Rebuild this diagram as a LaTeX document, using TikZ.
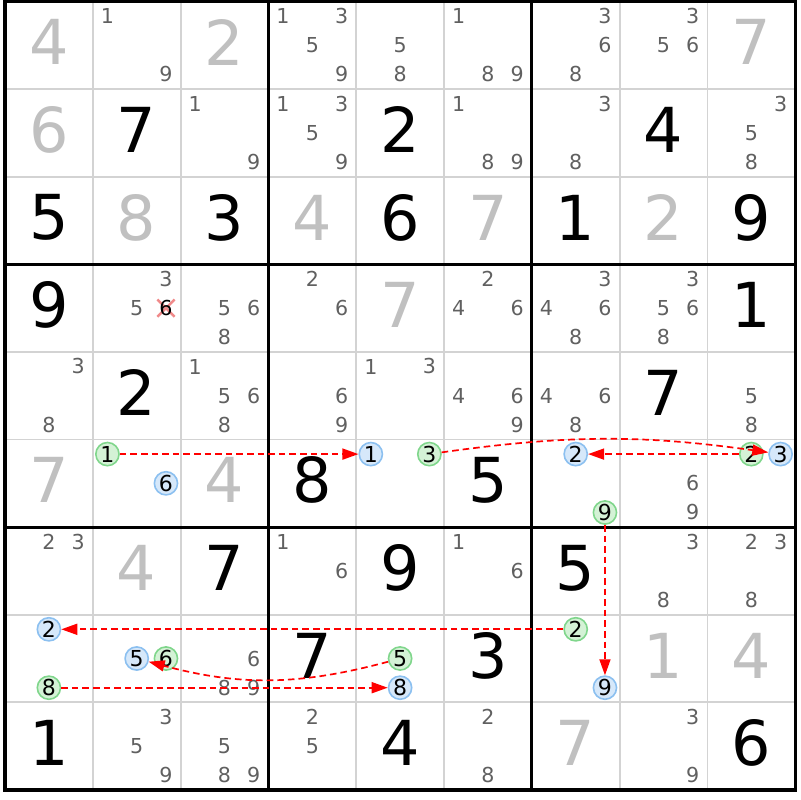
\documentclass[tikz,border=0pt]{standalone}
\usepackage{fontspec}
\setmainfont{DejaVu Sans}
\usetikzlibrary{arrows.meta}
\definecolor{gridgray}{RGB}{211,211,211}
\definecolor{candgray}{RGB}{96,96,96}
\definecolor{solvedgray}{RGB}{192,192,192}
\definecolor{ongreen}{RGB}{212,242,214}
\definecolor{ongreenline}{RGB}{128,214,140}
\definecolor{offblue}{RGB}{214,232,250}
\definecolor{offblueline}{RGB}{140,192,240}
\definecolor{elimred}{RGB}{240,138,138}
% candidate #4 of row #2, column #3, drawn with style #1
\newcommand{\candnode}[4]{%
    \pgfmathsetmacro\cx{#3+mod(#4-1,3)/3+1/6}%
    \pgfmathsetmacro\cy{#2+int((#4-1)/3)/3+1/6}%
    \node[#1] (k#2#3#4) at (\cx,\cy) {#4};}
\newcommand{\cands}[3]{\foreach \k in {#3} {\candnode{cand}{#1}{#2}{\k}}}

\begin{document}
\begin{tikzpicture}[x=43.9pt,y=-43.8pt,
    thinline/.style={gridgray,line width=0.9pt},
    boxline/.style={black,line width=1.6pt,line cap=rect},
    given/.style={font=\fontsize{31}{31}\selectfont,text=black,yshift=1.5pt},
    solved/.style={given,text=solvedgray},
    cand/.style={font=\fontsize{10.3}{12}\selectfont,text=candgray,inner sep=0pt},
    oncand/.style={cand,font=\fontsize{11}{12}\selectfont,text=black,circle,minimum size=11.6pt,
        line width=0.8pt,draw=ongreenline,fill=ongreen},
    offcand/.style={oncand,draw=offblueline,fill=offblue},
    link/.style={red,line width=0.85pt,dash pattern=on 3.3pt off 2pt,-{Triangle[length=8pt,width=5.5pt]}},
    elim/.style={elimred,line width=1.2pt}]
    \useasboundingbox (-0.0569,-0.0171) rectangle (9.0547,9.1153);
    \foreach \i in {1,2,4,5,7,8} {
        \draw[thinline] (\i,0) -- (\i,9);
        \draw[thinline] (0,\i) -- (9,\i);
    }
    \foreach \i in {3,6} {
        \draw[boxline] (\i,0) -- (\i,9);
        \draw[boxline] (0,\i) -- (9,\i);
    }
    \draw[boxline] (0,0) rectangle (9,9);

    \foreach \r/\c/\d in {1/1/7,1/4/2,1/7/4,2/0/5,2/2/3,2/4/6,2/6/1,2/8/9,3/0/9,3/8/1,4/1/2,4/7/7,
        5/3/8,5/5/5,6/2/7,6/4/9,6/6/5,7/3/7,7/5/3,8/0/1,8/4/4,8/8/6}
        \node[given] (d\r\c) at (\c+0.5,\r+0.5) {\d};
    \foreach \r/\c/\d in {0/0/4,0/2/2,0/8/7,1/0/6,2/1/8,2/3/4,2/5/7,2/7/2,3/4/7,5/0/7,5/2/4,
        6/1/4,7/7/1,7/8/4,8/6/7}
        \node[solved] (d\r\c) at (\c+0.5,\r+0.5) {\d};

    % eliminated candidate
    \coordinate (x316) at (1+5/6,3.5);
    \draw[elim] (x316) +(-4.3pt,-4.3pt) -- +(4.3pt,4.3pt) +(-4.3pt,4.3pt) -- +(4.3pt,-4.3pt);

    \cands{0}{1}{1,9} \cands{0}{3}{1,3,5,9} \cands{0}{4}{5,8} \cands{0}{5}{1,8,9}
    \cands{0}{6}{3,6,8} \cands{0}{7}{3,5,6}
    \cands{1}{2}{1,9} \cands{1}{3}{1,3,5,9} \cands{1}{5}{1,8,9} \cands{1}{6}{3,8} \cands{1}{8}{3,5,8}
    \cands{3}{1}{3,5} \cands{3}{2}{5,6,8} \cands{3}{3}{2,6} \cands{3}{5}{2,4,6}
    \cands{3}{6}{3,4,6,8} \cands{3}{7}{3,5,6,8}
    \candnode{cand,text=black}{3}{1}{6}
    \cands{4}{0}{3,8} \cands{4}{2}{1,5,6,8} \cands{4}{3}{6,9} \cands{4}{4}{1,3}
    \cands{4}{5}{4,6,9} \cands{4}{6}{4,6,8} \cands{4}{8}{5,8}
    \cands{5}{7}{6,9}
    \cands{6}{0}{2,3} \cands{6}{3}{1,6} \cands{6}{5}{1,6} \cands{6}{7}{3,8} \cands{6}{8}{2,3,8}
    \cands{7}{2}{6,8,9}
    \cands{8}{1}{3,5,9} \cands{8}{2}{5,8,9} \cands{8}{3}{2,5} \cands{8}{5}{2,8} \cands{8}{7}{3,9}

    % chain
    \candnode{oncand}{5}{1}{1}
    \candnode{offcand}{5}{1}{6}
    \candnode{offcand}{5}{4}{1}
    \candnode{oncand}{5}{4}{3}
    \candnode{offcand}{5}{6}{2}
    \candnode{oncand}{5}{6}{9}
    \candnode{oncand}{5}{8}{2}
    \candnode{offcand}{5}{8}{3}
    \candnode{offcand}{7}{0}{2}
    \candnode{oncand}{7}{0}{8}
    \candnode{offcand}{7}{1}{5}
    \candnode{oncand}{7}{1}{6}
    \candnode{oncand}{7}{4}{5}
    \candnode{offcand}{7}{4}{8}
    \candnode{oncand}{7}{6}{2}
    \candnode{offcand}{7}{6}{9}

    \draw[link] (k511) -- (k541);
    \draw[link] (k543) to[bend left=8] (k583);
    \draw[link] (k582) -- (k562);
    \draw[link] (k569) -- (k769);
    \draw[link] (k762) -- (k702);
    \draw[link] (k745) to[bend left=15] (k715);
    \draw[link] (k708) -- (k748);
\end{tikzpicture}
\end{document}
